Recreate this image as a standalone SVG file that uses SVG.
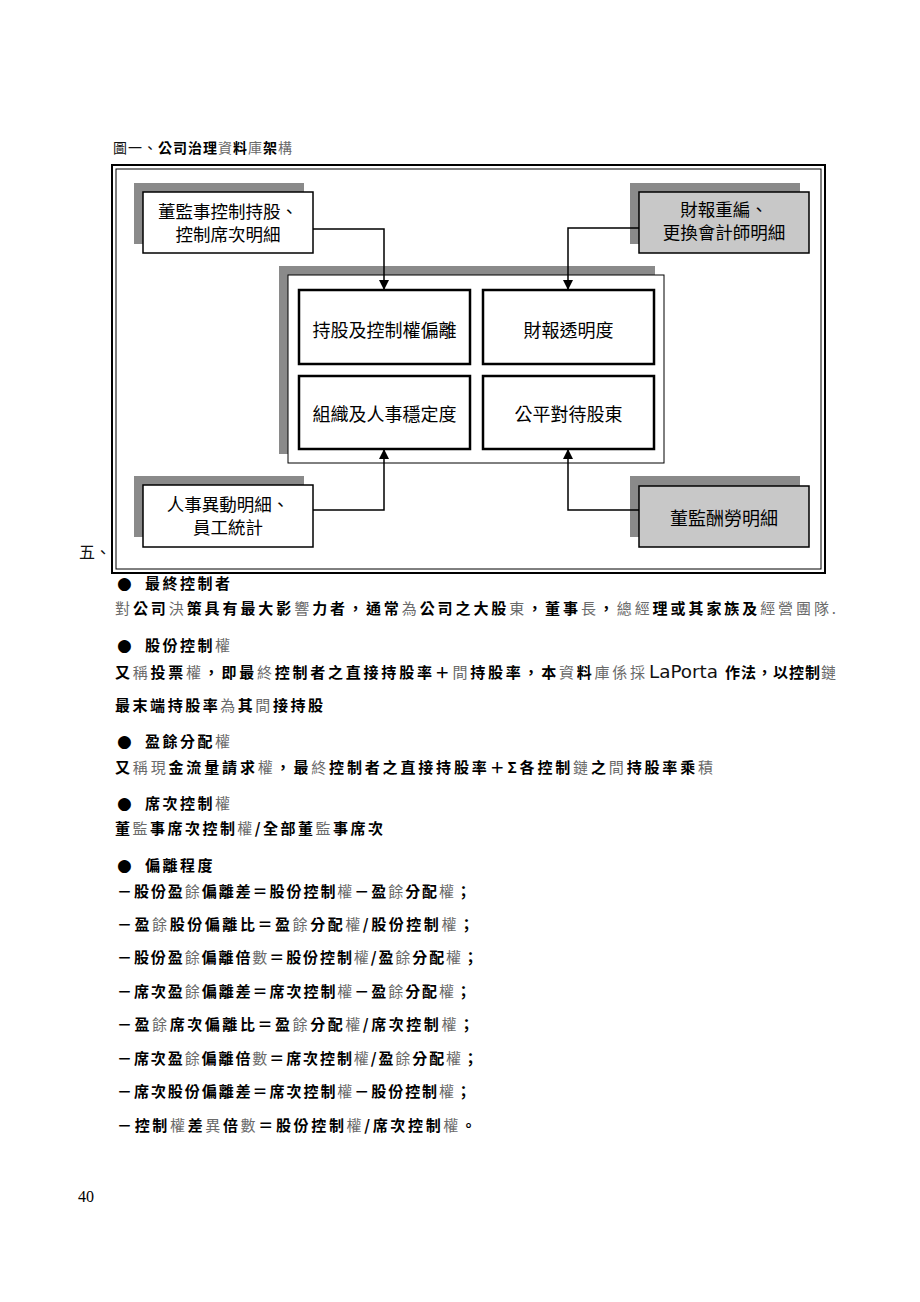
<svg xmlns="http://www.w3.org/2000/svg" width="920" height="1302" viewBox="0 0 920 1302">
<style>
.bg{fill:#ffffff}
.frameO{fill:none;stroke:#000;stroke-width:2}
.frameI{fill:none;stroke:#000;stroke-width:1}
.shadow{fill:#8a8a8a}
.boxW{fill:#ffffff;stroke:#000;stroke-width:1.5}
.boxG{fill:#c8c8c8;stroke:#000;stroke-width:1.5}
.panel{fill:#ffffff;stroke:#000;stroke-width:1}
.inner{fill:#ffffff;stroke:#000;stroke-width:2.5}
.lbl{font-family:"Noto Sans CJK TC","Noto Sans CJK SC",sans-serif;font-size:18px;fill:#000;text-anchor:middle}
.lbl2{font-family:"Noto Sans CJK TC","Noto Sans CJK SC",sans-serif;font-size:17.5px;fill:#000;text-anchor:middle}
.conn{fill:none;stroke:#000;stroke-width:1.5}
.body{font-family:"Noto Sans CJK TC","Noto Sans CJK SC",sans-serif;font-size:15px;font-weight:700;fill:#000}
.head{letter-spacing:2.5px}
.t{font-weight:400;fill:#6a6a6a}
.n{font-weight:400;fill:#111}
.bul{font-family:"DejaVu Sans",sans-serif;font-size:17px;fill:#000}
.lat{font-family:"DejaVu Sans",sans-serif;font-size:17px;font-weight:400;fill:#111}
.serif{font-family:"Liberation Serif",serif;font-size:16px;fill:#000}
</style>
<defs>
<marker id="arr" viewBox="0 0 10 10" refX="10" refY="5" markerWidth="10" markerHeight="10" markerUnits="userSpaceOnUse" orient="auto">
<path d="M0,0 L10,5 L0,10 z" fill="#000"/>
</marker>
</defs>
<rect class="bg" x="0" y="0" width="920" height="1302"/>

<text class="body" x="113" y="153" style="font-size:14px" textLength="179" lengthAdjust="spacing"><tspan class="n">圖一、</tspan>公司治理<tspan class="t">資</tspan>料<tspan class="t">庫</tspan>架<tspan class="t">構</tspan></text>

<g id="frame">
<rect class="frameO" x="112" y="165" width="713" height="408"/>
<rect class="frameI" x="116" y="169" width="705" height="400"/>
</g>

<g id="center-panel">
<rect class="shadow" x="279" y="266" width="376" height="188"/>
<rect class="panel" x="288" y="275" width="376" height="188"/>
</g>

<g id="node-ownership-deviation">
<rect class="inner" x="299" y="290" width="171" height="74"/>
<text class="lbl" x="384.5" y="336.5">持股及控制權偏離</text>
</g>
<g id="node-fin-transparency">
<rect class="inner" x="483" y="290" width="171" height="74"/>
<text class="lbl" x="568.5" y="336.5">財報透明度</text>
</g>
<g id="node-org-stability">
<rect class="inner" x="299" y="376" width="171" height="73"/>
<text class="lbl" x="384.5" y="420.5">組織及人事穩定度</text>
</g>
<g id="node-fair-treatment">
<rect class="inner" x="483" y="376" width="171" height="73"/>
<text class="lbl" x="568.5" y="420.5">公平對待股東</text>
</g>

<g id="node-board-control">
<rect class="shadow" x="134" y="183" width="170" height="61"/>
<rect class="boxW" x="143" y="192" width="170" height="61"/>
<text class="lbl2" x="228" y="218">董監事控制持股、</text>
<text class="lbl2" x="228" y="240.5">控制席次明細</text>
</g>
<g id="node-restatement">
<rect class="shadow" x="630" y="183" width="170" height="61"/>
<rect class="boxG" x="639" y="192" width="170" height="61"/>
<text class="lbl2" x="724" y="216">財報重編、</text>
<text class="lbl2" x="724" y="238.5">更換會計師明細</text>
</g>
<g id="node-personnel">
<rect class="shadow" x="134" y="476" width="170" height="61"/>
<rect class="boxW" x="143" y="485" width="170" height="62"/>
<text class="lbl2" x="228" y="511">人事異動明細、</text>
<text class="lbl2" x="228" y="533.5">員工統計</text>
</g>
<g id="node-compensation">
<rect class="shadow" x="630" y="476" width="170" height="61"/>
<rect class="boxG" x="639" y="486" width="170" height="61"/>
<text class="lbl" x="724" y="524.5">董監酬勞明細</text>
</g>

<g id="connectors">
<polyline class="conn" points="313,229 384,229 384,290" marker-end="url(#arr)"/>
<polyline class="conn" points="639,228 568,228 568,290" marker-end="url(#arr)"/>
<polyline class="conn" points="313,510 384,510 384,449" marker-end="url(#arr)"/>
<polyline class="conn" points="639,510 568,510 568,449" marker-end="url(#arr)"/>
</g>

<text class="body" x="79" y="558" style="font-size:16px"><tspan class="n">五、</tspan></text>

<g id="notes">
<text class="bul" x="117" y="589">●</text>
<text class="body head" x="145" y="588.5">最終控制者</text>
<text class="body" x="115" y="613.5" textLength="721" lengthAdjust="spacing"><tspan class="t">對</tspan>公司<tspan class="t">決</tspan>策具有最大影<tspan class="t">響</tspan>力者，通常<tspan class="t">為</tspan>公司之大股<tspan class="t">東</tspan>，董事<tspan class="t">長</tspan>，<tspan class="t">總經</tspan>理或其家族及<tspan class="t">經營團隊.</tspan></text>

<text class="bul" x="117" y="651">●</text>
<text class="body head" x="145" y="650.5">股份控制<tspan class="t">權</tspan></text>
<text class="body" x="115" y="677.5" textLength="530" lengthAdjust="spacing">又<tspan class="t">稱</tspan>投票<tspan class="t">權</tspan>，即最<tspan class="t">終</tspan>控制者之直接持股率＋<tspan class="t">間</tspan>持股率，本<tspan class="t">資</tspan>料<tspan class="t">庫係採</tspan></text>
<text class="lat" x="649" y="678" textLength="69" lengthAdjust="spacingAndGlyphs">LaPorta</text>
<text class="body" x="725" y="677.5" textLength="111" lengthAdjust="spacing">作法，以控制<tspan class="t">鏈</tspan></text>
<text class="body" x="115" y="710.5" textLength="208" lengthAdjust="spacing">最末端持股率<tspan class="t">為</tspan>其<tspan class="t">間</tspan>接持股</text>

<text class="bul" x="117" y="747">●</text>
<text class="body head" x="145" y="746.5">盈餘分配<tspan class="t">權</tspan></text>
<text class="body" x="115" y="772.5" textLength="598" lengthAdjust="spacing">又<tspan class="t">稱現</tspan>金流量請求<tspan class="t">權</tspan>，最<tspan class="t">終</tspan>控制者之直接持股率＋Σ各控制<tspan class="t">鏈</tspan>之<tspan class="t">間</tspan>持股率乘<tspan class="t">積</tspan></text>

<text class="bul" x="117" y="809">●</text>
<text class="body head" x="145" y="808.5">席次控制<tspan class="t">權</tspan></text>
<text class="body" x="115" y="833.5" textLength="268" lengthAdjust="spacing">董<tspan class="t">監</tspan>事席次控制<tspan class="t">權</tspan>/全部董<tspan class="t">監</tspan>事席次</text>

<text class="bul" x="117" y="871">●</text>
<text class="body head" x="145" y="870.5">偏離程度</text>

<text class="body" x="117" y="896.5" textLength="354" lengthAdjust="spacing">－股份盈<tspan class="t">餘</tspan>偏離差＝股份控制<tspan class="t">權</tspan>－盈<tspan class="t">餘</tspan>分配<tspan class="t">權</tspan>；</text>
<text class="body" x="117" y="929.5" textLength="357" lengthAdjust="spacing">－盈<tspan class="t">餘</tspan>股份偏離比＝盈<tspan class="t">餘</tspan>分配<tspan class="t">權</tspan>/股份控制<tspan class="t">權</tspan>；</text>
<text class="body" x="117" y="962.5" textLength="361" lengthAdjust="spacing">－股份盈<tspan class="t">餘</tspan>偏離倍<tspan class="t">數</tspan>＝股份控制<tspan class="t">權</tspan>/盈<tspan class="t">餘</tspan>分配<tspan class="t">權</tspan>；</text>
<text class="body" x="117" y="996.5" textLength="354" lengthAdjust="spacing">－席次盈<tspan class="t">餘</tspan>偏離差＝席次控制<tspan class="t">權</tspan>－盈<tspan class="t">餘</tspan>分配<tspan class="t">權</tspan>；</text>
<text class="body" x="117" y="1029.5" textLength="357" lengthAdjust="spacing">－盈<tspan class="t">餘</tspan>席次偏離比＝盈<tspan class="t">餘</tspan>分配<tspan class="t">權</tspan>/席次控制<tspan class="t">權</tspan>；</text>
<text class="body" x="117" y="1063.5" textLength="361" lengthAdjust="spacing">－席次盈<tspan class="t">餘</tspan>偏離倍<tspan class="t">數</tspan>＝席次控制<tspan class="t">權</tspan>/盈<tspan class="t">餘</tspan>分配<tspan class="t">權</tspan>；</text>
<text class="body" x="117" y="1096.5" textLength="354" lengthAdjust="spacing">－席次股份偏離差＝席次控制<tspan class="t">權</tspan>－股份控制<tspan class="t">權</tspan>；</text>
<text class="body" x="117" y="1130.5" textLength="359" lengthAdjust="spacing">－控制<tspan class="t">權</tspan>差<tspan class="t">異</tspan>倍<tspan class="t">數</tspan>＝股份控制<tspan class="t">權</tspan>/席次控制<tspan class="t">權</tspan>。</text>
</g>

<text class="serif" x="78" y="1202">40</text>
</svg>
